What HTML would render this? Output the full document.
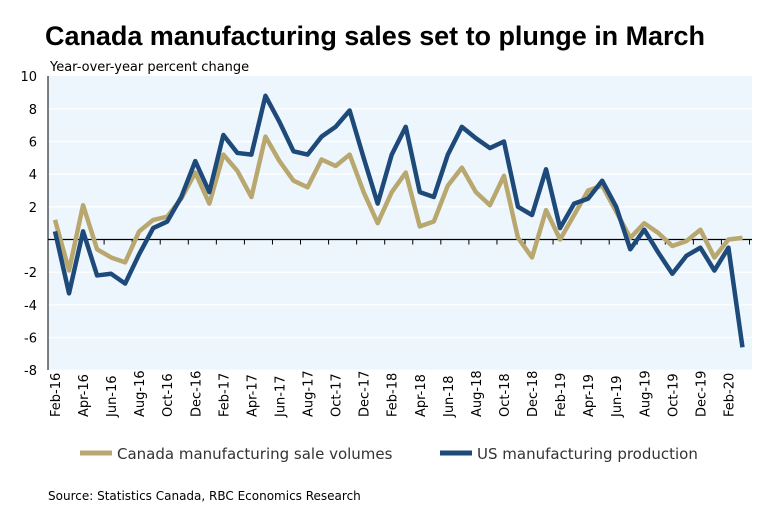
<!DOCTYPE html>
<html><head><meta charset="utf-8"><style>
body{margin:0;background:#fff;}
svg{display:block;font-family:"DejaVu Sans","Liberation Sans",sans-serif;}
</style></head><body>
<svg id="c" width="766" height="510">
<text x="45" y="45" font-size="27" font-weight="bold" fill="#000" font-family="Liberation Sans, sans-serif" textLength="660" lengthAdjust="spacing">Canada manufacturing sales set to plunge in March</text>
<text x="50" y="71" font-size="13" fill="#000">Year-over-year percent change</text>
<rect x="48" y="76" width="704" height="294" fill="#eef6fd"/>
<g id="grid"></g><g id="axes"></g><g id="series"></g><g id="labels"></g>
<g>
<line x1="80" y1="453" x2="112" y2="453" stroke="#b8a870" stroke-width="5"/>
<text x="117" y="459" font-size="15" fill="#333">Canada manufacturing sale volumes</text>
<line x1="440" y1="453" x2="472" y2="453" stroke="#1e4a7a" stroke-width="5"/>
<text x="477" y="459" font-size="15" fill="#333">US manufacturing production</text>
</g>
<text x="48" y="500" font-size="12" fill="#000">Source: Statistics Canada, RBC Economics Research</text>
</svg>
<script>
const months=["Feb-16","Mar-16","Apr-16","May-16","Jun-16","Jul-16","Aug-16","Sep-16","Oct-16","Nov-16","Dec-16","Jan-17","Feb-17","Mar-17","Apr-17","May-17","Jun-17","Jul-17","Aug-17","Sep-17","Oct-17","Nov-17","Dec-17","Jan-18","Feb-18","Mar-18","Apr-18","May-18","Jun-18","Jul-18","Aug-18","Sep-18","Oct-18","Nov-18","Dec-18","Jan-19","Feb-19","Mar-19","Apr-19","May-19","Jun-19","Jul-19","Aug-19","Sep-19","Oct-19","Nov-19","Dec-19","Jan-20","Feb-20","Mar-20"];
const usProduction=[0.5,-3.3,0.5,-2.2,-2.1,-2.7,-0.9,0.7,1.1,2.6,4.8,2.9,6.4,5.3,5.2,8.8,7.2,5.4,5.2,6.3,6.9,7.9,5.0,2.2,5.2,6.9,2.9,2.6,5.2,6.9,6.2,5.6,6.0,2.0,1.5,4.3,0.7,2.2,2.5,3.6,2.0,-0.6,0.6,-0.8,-2.1,-1.0,-0.5,-1.9,-0.5,-6.6];
const canadaSales=[1.2,-1.9,2.1,-0.6,-1.1,-1.4,0.5,1.2,1.4,2.5,4.1,2.2,5.2,4.2,2.6,6.3,4.8,3.6,3.2,4.9,4.5,5.2,2.9,1.0,2.9,4.1,0.8,1.1,3.3,4.4,2.9,2.1,3.9,0.1,-1.1,1.8,0.0,1.5,3.0,3.3,1.7,0.1,1.0,0.4,-0.4,-0.1,0.6,-1.1,0.0,0.1];
const yTicks=[10,8,6,4,2,-2,-4,-6,-8];
const NS="http://www.w3.org/2000/svg";
const xS=i=>55+i*14.03;
const yS=v=>239.5-v*16.33;
function mk(t,a,p){const e=document.createElementNS(NS,t);for(const k in a)e.setAttribute(k,a[k]);p.appendChild(e);return e;}
const grid=document.getElementById('grid'),axes=document.getElementById('axes'),ser=document.getElementById('series'),lab=document.getElementById('labels');
yTicks.forEach(v=>{
 if(v!==10){const g=mk('line',{x1:48,x2:752,y1:yS(v),y2:yS(v),stroke:'#fff','stroke-width':1.2},grid);
 
 }
 const t=mk('text',{x:37,y:yS(v)+5,'text-anchor':'end','font-size':13,fill:'#000'},lab);t.textContent=v;
 
 
});
const ya=mk('line',{x1:48,x2:48,y1:76,y2:370,stroke:'#000','stroke-width':1},axes);


const xa=mk('line',{x1:48,x2:752,y1:yS(0),y2:yS(0),stroke:'#000','stroke-width':1.2},axes);


for(let i=1.5;i<months.length;i+=2){const tk=mk('line',{x1:xS(i),x2:xS(i),y1:yS(0),y2:yS(0)+5,stroke:'#000'},axes);
 
 }
function line(vals,col,name){const p=mk('polyline',{points:vals.map((v,i)=>xS(i)+','+yS(v)).join(' '),fill:'none',stroke:col,'stroke-width':4.5,'stroke-linejoin':'round'},ser);
 
 }
line(canadaSales,'#b8a870','canada-sales-line');
line(usProduction,'#1e4a7a','us-production-line');
months.forEach((m,i)=>{if(i%2)return;const x=xS(i)+5,y=417;
 const t=mk('text',{x:x,y:y,'font-size':13,fill:'#000',transform:`rotate(-90 ${x} ${y})`},lab);t.textContent=m;
 
 });
</script>
</body></html>
